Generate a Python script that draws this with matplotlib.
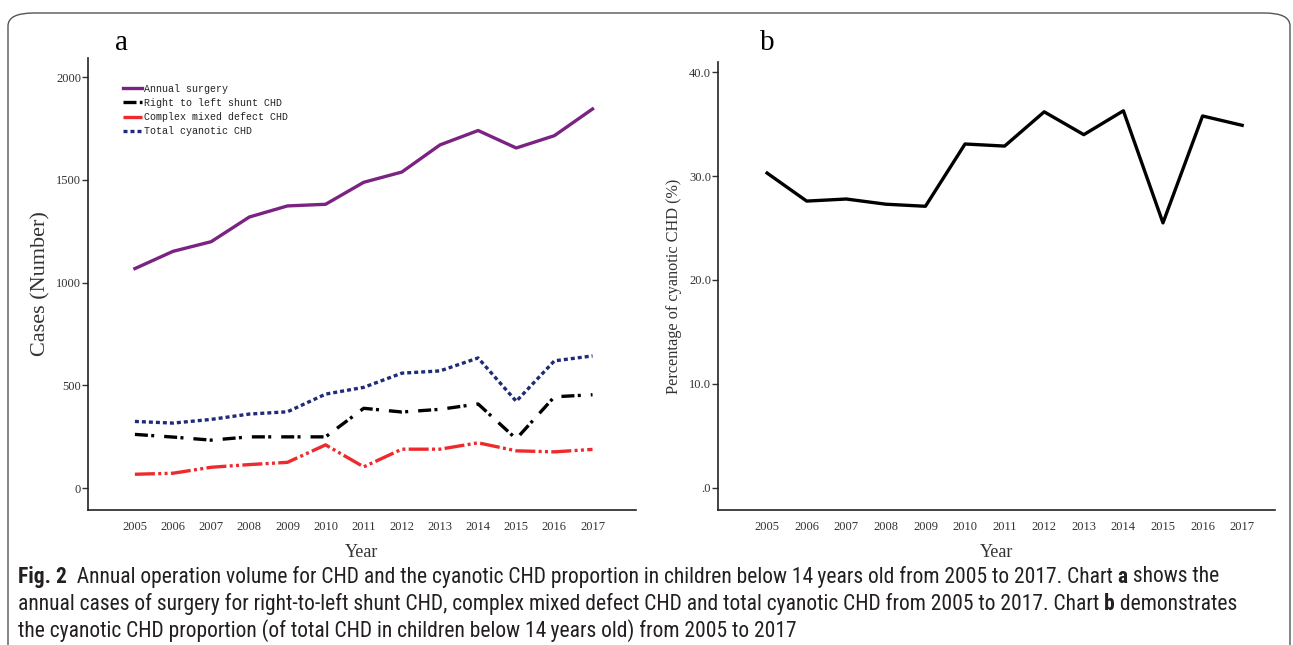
import matplotlib
matplotlib.use("Agg")
import matplotlib.pyplot as plt
from matplotlib.patches import FancyBboxPatch
from matplotlib import font_manager

years = [2005, 2006, 2007, 2008, 2009, 2010, 2011, 2012, 2013, 2014, 2015, 2016, 2017]
annual_surgery = [1068, 1152, 1199, 1319, 1373, 1381, 1488, 1538, 1670, 1740, 1655, 1715, 1845]
right_left_shunt = [261, 248, 233, 249, 249, 249, 388, 370, 383, 409, 239, 444, 454]
complex_mixed = [67, 72, 101, 114, 125, 210, 103, 189, 189, 220, 181, 176, 188]
total_cyanotic = [324, 316, 334, 360, 371, 457, 490, 559, 570, 633, 422, 619, 643]
pct_cyanotic = [30.3, 27.6, 27.8, 27.3, 27.1, 33.1, 32.9, 36.2, 34.0, 36.3, 25.5, 35.8, 34.9]

legend_labels = ["Annual surgery", "Right to left shunt CHD", "Complex mixed defect CHD", "Total cyanotic CHD"]
a_yticks = [0, 500, 1000, 1500, 2000]
b_yticks = [0, 10, 20, 30, 40]
b_yticklabels = [".0", "10.0", "20.0", "30.0", "40.0"]

W, H = 1293, 645
fig = plt.figure(figsize=(W / 100, H / 100), dpi=100)

serif = ["Liberation Serif", "DejaVu Serif"]
mono = ["Liberation Mono", "DejaVu Sans Mono"]
tick_color = "#333333"

# outer frame
frame = FancyBboxPatch((8 / W, -0.1), (1290 - 8) / W, (645 - 13) / H + 0.1,
                       boxstyle="round,pad=0,rounding_size=0.02",
                       transform=fig.transFigure, fill=False, ec="#555555", lw=1.0)
fig.patches.append(frame)


def style_axes(ax):
    for s in ["top", "right"]:
        ax.spines[s].set_visible(False)
    for s in ["left", "bottom"]:
        ax.spines[s].set_linewidth(1.2)
        ax.spines[s].set_color("#222222")
    ax.tick_params(axis="x", length=0, pad=8, labelsize=9, colors=tick_color)
    ax.tick_params(axis="y", length=4, width=1, direction="out", labelsize=9, colors=tick_color, pad=1)
    for lab in ax.get_xticklabels() + ax.get_yticklabels():
        lab.set_family(serif)


# panel a
axa = fig.add_axes([88 / W, 1 - 510 / H, (636 - 88) / W, (510 - 58) / H])
axa.plot(years, annual_surgery, color="#7B2383", lw=2.4, label=legend_labels[0])
axa.plot(years, right_left_shunt, color="black", lw=2.4, dashes=(3.9, 1.0, 0.9, 3.0), label=legend_labels[1])
axa.plot(years, complex_mixed, color="#EE2A2E", lw=2.4, dashes=(6.0, 1.0, 0.9, 1.0, 0.9, 1.0), label=legend_labels[2])
axa.plot(years, total_cyanotic, color="#1F2A78", lw=2.4, dashes=(1.2, 0.9), label=legend_labels[3])
axa.set_xlim(2003.77, 2018.14)
axa.set_ylim(-107, 2093)
axa.set_xticks(years)
axa.set_xticklabels([str(y) for y in years])
axa.set_yticks(a_yticks)
axa.set_yticklabels([str(v) for v in a_yticks])
style_axes(axa)
axa.set_xlabel("Year", family=serif, fontsize=13, color=tick_color, labelpad=8)
axa.set_ylabel("Cases (Number)", family=serif, fontsize=16, color=tick_color, labelpad=4)
leg = axa.legend(loc="upper left", bbox_to_anchor=(0.064, 0.943), frameon=False,
                 prop={"family": mono, "size": 7.2}, handlelength=1.9, handletextpad=0.15,
                 labelspacing=0.42, borderaxespad=0, borderpad=0)
for t in leg.get_texts():
    t.set_color("#222222")
fig.text(122 / W, 1 - 43 / H, "a", family=serif, fontsize=21, ha="center", va="center")

# panel b
axb = fig.add_axes([718 / W, 1 - 510 / H, (1275 - 718) / W, (510 - 62) / H])
axb.plot(years, pct_cyanotic, color="black", lw=2.4)
axb.set_xlim(2003.76, 2017.83)
axb.set_ylim(-2.16, 41.0)
axb.set_xticks(years)
axb.set_xticklabels([str(y) for y in years])
axb.set_yticks(b_yticks)
axb.set_yticklabels(b_yticklabels)
style_axes(axb)
axb.set_xlabel("Year", family=serif, fontsize=13, color=tick_color, labelpad=8)
axb.set_ylabel("Percentage of cyanotic CHD (%)", family=serif, fontsize=11.7, color=tick_color, labelpad=5)
fig.text(767 / W, 1 - 43 / H, "b", family=serif, fontsize=21, ha="center", va="center")

# caption font: prefer a condensed sans
names = {f.name for f in font_manager.fontManager.ttflist}
cap_family = None
cap_stretch = "normal"
for cand in ["Liberation Sans Narrow", "Roboto Condensed", "Open Sans Condensed", "Noto Sans Condensed"]:
    if cand in names:
        cap_family = cand
        break
if cap_family is None:
    cond = [f for f in font_manager.fontManager.ttflist
            if "condensed" in str(f.stretch).lower() or "Condensed" in f.fname]
    for f in cond:
        if "Sans" in f.name and "Mono" not in f.name:
            cap_family = f.name
            cap_stretch = "condensed"
            break
if cap_family is None:
    cap_family = "DejaVu Sans"
cap_font = [cap_family, "DejaVu Sans"]

lines = [
    [("Fig. 2", "bold"), ("  Annual operation volume for CHD and the cyanotic CHD proportion in children below 14\u2009years old from 2005 to 2017. Chart ", "normal"), ("a", "bold"), (" shows the", "normal")],
    [("annual cases of surgery for right-to-left shunt CHD, complex mixed defect CHD and total cyanotic CHD from 2005 to 2017. Chart ", "normal"), ("b", "bold"), (" demonstrates", "normal")],
    [("the cyanotic CHD proportion (of total CHD in children below 14\u2009years old) from 2005 to 2017", "normal")],
]
fig.canvas.draw()
renderer = fig.canvas.get_renderer()

# measure line 2 at a base size and scale to the reference width
base = 12.0
target_w = 1238 - 18
tot = 0
tmp = []
for s, w in lines[1]:
    t = fig.text(0, 0, s, family=cap_font, fontsize=base, fontweight=w, fontstretch=cap_stretch)
    tot += t.get_window_extent(renderer=renderer).width
    tmp.append(t)
for t in tmp:
    t.remove()
cap_size = base * target_w / tot

y_px = [577, 604, 631]
for line, yp in zip(lines, y_px):
    x = 18
    for s, w in line:
        t = fig.text(x / W, 1 - yp / H, s, family=cap_font, fontsize=cap_size, fontweight=w,
                     fontstretch=cap_stretch, ha="left", va="center", color="#231F20")
        bb = t.get_window_extent(renderer=renderer)
        x += bb.width

fig.savefig("out.png", dpi=100)
